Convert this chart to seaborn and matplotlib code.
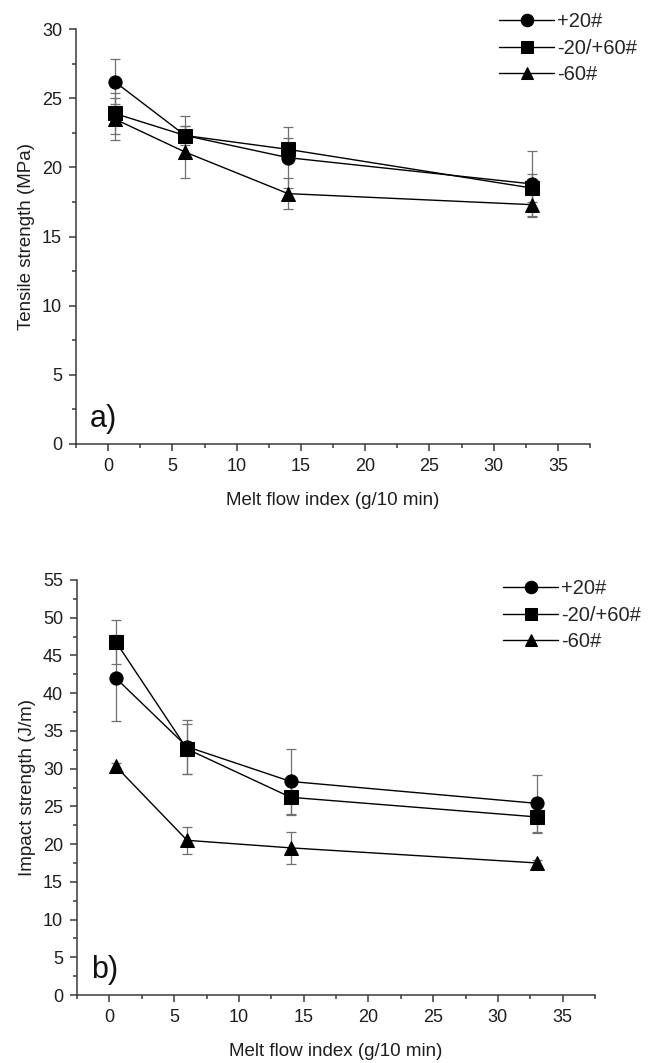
import numpy as np
import pandas as pd
import matplotlib
matplotlib.use("Agg")
import matplotlib.pyplot as plt
from matplotlib.ticker import MultipleLocator
import seaborn as sns

# ---- data ----
mfi = [0.5, 6, 14, 33]
series = ["+20#", "-20/+60#", "-60#"]

tensile_p20 = [26.2, 22.3, 20.7, 18.8]
tensile_p20_err = [1.6, 1.4, 2.2, 2.4]
tensile_m20 = [23.9, 22.3, 21.3, 18.5]
tensile_m20_err = [1.5, 0.7, 0.8, 1.0]
tensile_m60 = [23.5, 21.1, 18.1, 17.3]
tensile_m60_err = [1.5, 1.9, 1.1, 0.8]

impact_p20 = [42.0, 32.9, 28.3, 25.4]
impact_p20_err = [5.7, 3.6, 4.3, 3.8]
impact_m20 = [46.8, 32.6, 26.2, 23.6]
impact_m20_err = [2.9, 3.3, 2.4, 2.1]
impact_m60 = [30.3, 20.5, 19.5, 17.5]
impact_m60_err = [0.5, 1.8, 2.1, 0.4]

sns.set_theme(style="ticks")
plt.rcParams['font.family'] = ['Liberation Sans', 'DejaVu Sans']

W, H = 654, 1063
fig = plt.figure(figsize=(W / 100, H / 100), dpi=100)

def make_df(vals):
    rows = []
    for s, ys in zip(series, vals):
        for x, y in zip(mfi, ys):
            rows.append({"mfi": x, "val": y, "series": s})
    return pd.DataFrame(rows)

markers = {"+20#": "o", "-20/+60#": "s", "-60#": "^"}
TXT = "#1e1e1e"
AX = "#3a3a3a"

def panel(rect, vals, errs, ylim, ylabel, tag, leg_xy):
    ax = fig.add_axes(rect)
    df = make_df(vals)
    for ys, es in zip(vals, errs):
        ax.errorbar(mfi, ys, yerr=es, fmt="none", ecolor="#707070",
                    elinewidth=0.9, capsize=3.5, capthick=0.9, zorder=2)
    sns.lineplot(data=df, x="mfi", y="val", style="series", markers=markers,
                 dashes=False, color="black", linewidth=1.0, markersize=9.5,
                 markeredgecolor="black", ax=ax, legend=True, zorder=3)
    handles, labels = ax.get_legend_handles_labels()
    ax.get_legend().remove()
    ax.set_xlim(-2.5, 37.5)
    ax.set_ylim(*ylim)
    ax.xaxis.set_major_locator(MultipleLocator(5))
    ax.xaxis.set_minor_locator(MultipleLocator(2.5))
    ax.yaxis.set_major_locator(MultipleLocator(5))
    ax.yaxis.set_minor_locator(MultipleLocator(2.5))
    for sp in ["top", "right"]:
        ax.spines[sp].set_visible(False)
    for sp in ["left", "bottom"]:
        ax.spines[sp].set_color(AX)
        ax.spines[sp].set_linewidth(1.1)
    ax.tick_params(which="major", direction="out", length=5, width=1.1,
                   color=AX, labelsize=13, labelcolor=TXT, pad=5)
    ax.tick_params(which="minor", direction="out", length=3, width=1.1,
                   color=AX)
    ax.set_xlabel("Melt flow index (g/10 min)", fontsize=13.5, color=TXT, labelpad=12)
    ax.set_ylabel(ylabel, fontsize=13.5, color=TXT, labelpad=5)
    ax.text(0.027, 0.04, tag, transform=ax.transAxes, fontsize=22,
            color="#111111", ha="left", va="baseline")
    ax.grid(False)
    for h in handles:
        h.set_markersize(9)
    fig.legend(handles, labels, loc="upper left",
               bbox_to_anchor=(leg_xy[0] / W, 1 - leg_xy[1] / H), frameon=False,
               fontsize=14.5, handlelength=2.75, handletextpad=0.12,
               labelspacing=0.38, borderaxespad=0, borderpad=0)
    return ax

panel([76 / W, 1 - 444 / H, (590 - 76) / W, (444 - 29) / H],
      [tensile_p20, tensile_m20, tensile_m60],
      [tensile_p20_err, tensile_m20_err, tensile_m60_err],
      (0, 30), "Tensile strength (MPa)", "a)", (499, 12))

panel([77 / W, 1 - 995 / H, (595 - 77) / W, (995 - 580) / H],
      [impact_p20, impact_m20, impact_m60],
      [impact_p20_err, impact_m20_err, impact_m60_err],
      (0, 55), "Impact strength (J/m)", "b)", (503, 579))

fig.savefig("out.png", dpi=100)
